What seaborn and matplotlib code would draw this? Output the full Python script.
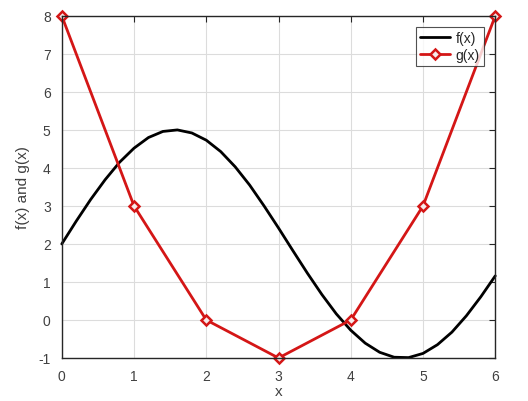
import matplotlib
matplotlib.use("Agg")
import matplotlib.pyplot as plt
import seaborn as sns
import pandas as pd

# f(x) at steps of 0.2
x_f = [0.0, 0.2, 0.4, 0.6, 0.8, 1.0, 1.2, 1.4, 1.6, 1.8, 2.0, 2.2, 2.4, 2.6, 2.8, 3.0,
       3.2, 3.4, 3.6, 3.8, 4.0, 4.2, 4.4, 4.6, 4.8, 5.0, 5.2, 5.4, 5.6, 5.8, 6.0]
y_f = [2.00, 2.60, 3.17, 3.69, 4.15, 4.52, 4.80, 4.96, 5.00, 4.92, 4.73, 4.43, 4.03, 3.55,
       3.00, 2.42, 1.82, 1.23, 0.67, 0.16, -0.27, -0.61, -0.85, -0.98, -0.99, -0.88,
       -0.65, -0.32, 0.11, 0.61, 1.16]

# g(x) at the integer points
x_g = [0, 1, 2, 3, 4, 5, 6]
y_g = [8, 3, 0, -1, 0, 3, 8]

x_ticks = [0, 1, 2, 3, 4, 5, 6]
y_ticks = [-1, 0, 1, 2, 3, 4, 5, 6, 7, 8]

sns.set_style("white")
plt.rcParams['font.family'] = ['Liberation Sans', 'DejaVu Sans']
plt.rcParams['axes.unicode_minus'] = False

df_f = pd.DataFrame({"x": x_f, "y": y_f})
df_g = pd.DataFrame({"x": x_g, "y": y_g})

fig = plt.figure(figsize=(5.28, 4.02), dpi=100)
ax = fig.add_axes([0.117, 0.107, 0.821, 0.851])

red = "#d41616"
sns.lineplot(data=df_f, x="x", y="y", ax=ax, color="black", linewidth=2.0, label="f(x)")
sns.lineplot(data=df_g, x="x", y="y", ax=ax, color=red, linewidth=2.0, marker="D",
             markersize=5, markerfacecolor="#f6eaea", markeredgecolor=red,
             markeredgewidth=1.8, label="g(x)")
for ln in ax.lines:
    ln.set_clip_on(False)

ax.set_xlim(0, 6)
ax.set_ylim(-1, 8)
ax.set_xticks(x_ticks)
ax.set_yticks(y_ticks)
ax.grid(True, color="#dcdcdc", linewidth=0.8)
ax.set_axisbelow(True)
for s in ax.spines.values():
    s.set_color("#262626")
    s.set_linewidth(1.0)
ax.tick_params(direction="in", length=4, color="#262626", labelsize=10,
               labelcolor="#404040", top=True, right=True, pad=8)
ax.set_xlabel("x", fontsize=11, color="#404040", labelpad=1)
ax.set_ylabel("f(x) and g(x)", fontsize=11, color="#404040", labelpad=6)

leg = ax.legend(loc="upper right", fontsize=10, frameon=True, fancybox=False,
                edgecolor="#262626", handlelength=2.2, borderaxespad=0.8,
                borderpad=0.3, labelspacing=0.2, handletextpad=0.4)
leg.get_frame().set_linewidth(0.8)
leg.set_zorder(5)

fig.savefig("out.png", dpi=100)
